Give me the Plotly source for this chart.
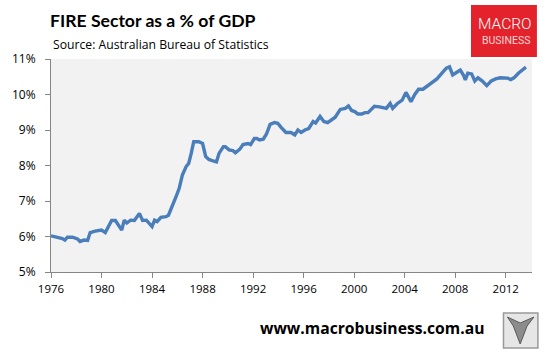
import plotly.graph_objects as go

years = [1976.0, 1976.5, 1976.9, 1977.1, 1977.3, 1977.7, 1978.1, 1978.3, 1978.6, 1978.9,
         1979.1, 1979.5, 1980.0, 1980.3, 1980.8, 1981.1, 1981.6, 1981.8, 1982.0, 1982.3,
         1982.6, 1983.0, 1983.25, 1983.55, 1984.0, 1984.2, 1984.4, 1984.7, 1985.1, 1985.3,
         1985.6, 1985.9, 1986.15, 1986.4, 1986.7, 1986.9, 1987.1, 1987.3, 1987.7, 1988.0,
         1988.25, 1988.5, 1988.9, 1989.1, 1989.3, 1989.65, 1989.8, 1990.1, 1990.4, 1990.6,
         1990.95, 1991.2, 1991.6, 1991.8, 1992.1, 1992.3, 1992.5, 1992.8, 1993.05, 1993.35,
         1993.7, 1993.95, 1994.2, 1994.6, 1995.0, 1995.3, 1995.55, 1995.8, 1996.1, 1996.4,
         1996.75, 1996.95, 1997.3, 1997.6, 1997.9, 1998.2, 1998.5, 1998.9, 1999.3, 1999.55,
         1999.8, 2000.05, 2000.3, 2000.6, 2000.85, 2001.1, 2001.35, 2001.6, 2002.0, 2002.4,
         2002.55, 2002.85, 2003.05, 2003.4, 2003.8, 2004.1, 2004.35, 2004.5, 2004.8, 2005.1,
         2005.45, 2005.8, 2006.15, 2006.55, 2006.95, 2007.3, 2007.55, 2007.8, 2008.1, 2008.4,
         2008.65, 2008.8, 2009.0, 2009.3, 2009.55, 2009.8, 2010.15, 2010.5, 2010.85, 2011.2,
         2011.55, 2011.8, 2012.15, 2012.4, 2012.65, 2013.0, 2013.3, 2013.6]

fire_pct = [6.02, 5.98, 5.94, 5.90, 5.98, 5.98, 5.93, 5.86, 5.90, 5.89,
            6.11, 6.15, 6.18, 6.11, 6.45, 6.45, 6.18, 6.46, 6.38, 6.46,
            6.45, 6.65, 6.45, 6.46, 6.28, 6.46, 6.42, 6.54, 6.56, 6.60,
            6.84, 7.12, 7.36, 7.73, 7.97, 8.06, 8.34, 8.67, 8.67, 8.62,
            8.25, 8.17, 8.12, 8.10, 8.34, 8.53, 8.53, 8.44, 8.42, 8.36,
            8.46, 8.59, 8.62, 8.59, 8.76, 8.76, 8.72, 8.74, 8.88, 9.16,
            9.21, 9.19, 9.08, 8.93, 8.93, 8.86, 9.00, 8.93, 9.00, 9.04,
            9.24, 9.20, 9.38, 9.24, 9.21, 9.28, 9.36, 9.58, 9.61, 9.68,
            9.55, 9.52, 9.45, 9.45, 9.49, 9.49, 9.58, 9.67, 9.65, 9.63,
            9.61, 9.75, 9.61, 9.74, 9.84, 10.06, 9.91, 9.80, 10.00, 10.15,
            10.15, 10.25, 10.34, 10.44, 10.60, 10.74, 10.78, 10.55, 10.62, 10.69,
            10.55, 10.41, 10.60, 10.58, 10.38, 10.47, 10.38, 10.25, 10.38, 10.44,
            10.47, 10.46, 10.46, 10.42, 10.47, 10.60, 10.69, 10.77]

x_ticks = [1976, 1980, 1984, 1988, 1992, 1996, 2000, 2004, 2008, 2012]
y_ticks = [5, 6, 7, 8, 9, 10, 11]
y_tick_labels = ["5%", "6%", "7%", "8%", "9%", "10%", "11%"]

W, H = 552, 355
L, R, T, B = 43, 532, 59, 272

def px(x):
    return (x - L) / (R - L)

def py(y):
    return (B - y) / (B - T)

fig = go.Figure()
fig.add_trace(go.Scatter(x=years, y=fire_pct, mode="lines",
                         line=dict(color="#4A7EBB", width=3.4), hoverinfo="skip"))

fig.update_layout(
    width=W, height=H,
    margin=dict(l=L, r=W - R, t=T, b=H - B, pad=0),
    paper_bgcolor="white", plot_bgcolor="#F2F2F2",
    showlegend=False,
    font=dict(family="Open Sans", color="#000000"),
    xaxis=dict(range=[1976, 2014.08], tickvals=x_ticks, ticktext=[str(v) for v in x_ticks],
               showgrid=False, zeroline=False, showline=True, linecolor="#868686", linewidth=1,
               ticks="outside", ticklen=5, tickcolor="#868686", ticklabelstandoff=1,
               tickfont=dict(family="Open Sans", size=11.5, color="#000000")),
    yaxis=dict(range=[5, 11], tickvals=y_ticks, ticktext=y_tick_labels,
               showgrid=False, zeroline=False, showline=True, linecolor="#868686", linewidth=1,
               ticks="outside", ticklen=5, tickcolor="#868686", ticklabelstandoff=7,
               tickfont=dict(family="Open Sans", size=12, color="#000000")),
)

ann = []
ann.append(dict(text="<b>FIRE Sector as a % of GDP</b>", x=px(40), y=py(20), xref="paper", yref="paper",
                xanchor="left", yanchor="middle", showarrow=False,
                font=dict(family="Lato", size=17.6, color="#000000")))
ann.append(dict(text="Source: Australian Bureau of Statistics", x=px(43), y=py(44), xref="paper", yref="paper",
                xanchor="left", yanchor="middle", showarrow=False,
                font=dict(family="Open Sans", size=12.2, color="#000000")))
ann.append(dict(text="<b>www.macrobusiness.com.au</b>", x=px(369), y=py(328), xref="paper", yref="paper",
                xanchor="center", yanchor="middle", showarrow=False,
                font=dict(family="Open Sans", size=15.7, color="#000000")))
ann.append(dict(text="MACRO", x=px(505), y=py(24), xref="paper", yref="paper",
                xanchor="center", yanchor="middle", showarrow=False,
                font=dict(family="Roboto", size=15.5, color="#FFFFFF", weight=300)))
ann.append(dict(text="BUSINESS", x=px(506), y=py(41), xref="paper", yref="paper",
                xanchor="center", yanchor="middle", showarrow=False,
                font=dict(family="Roboto", size=10.5, color="#FFD6D6")))
fig.update_layout(annotations=ann)

shapes = []
shapes.append(dict(type="rect", xref="paper", yref="paper", x0=px(470), x1=px(537), y0=py(57), y1=py(5),
                   fillcolor="#E3222B", line=dict(width=0), layer="below"))
shapes.append(dict(type="rect", xref="paper", yref="paper", x0=px(503), x1=px(538), y0=py(348), y1=py(313),
                   fillcolor="#E6E6E6", line=dict(color="#9A9A9A", width=1.5), layer="above"))
shapes.append(dict(type="path", xref="paper", yref="paper",
                   path=f"M {px(507)},{py(317)} L {px(513)},{py(326)} L {px(520)},{py(344)} "
                        f"L {px(527)},{py(326)} L {px(534)},{py(317)} L {px(520)},{py(323)} Z",
                   fillcolor="#8C8C8C", line=dict(color="#5A5A5A", width=1), layer="above"))
fig.update_layout(shapes=shapes)

fig.write_html("out.html", config={"displayModeBar": False},
               post_script="document.body.style.margin='0px';")
